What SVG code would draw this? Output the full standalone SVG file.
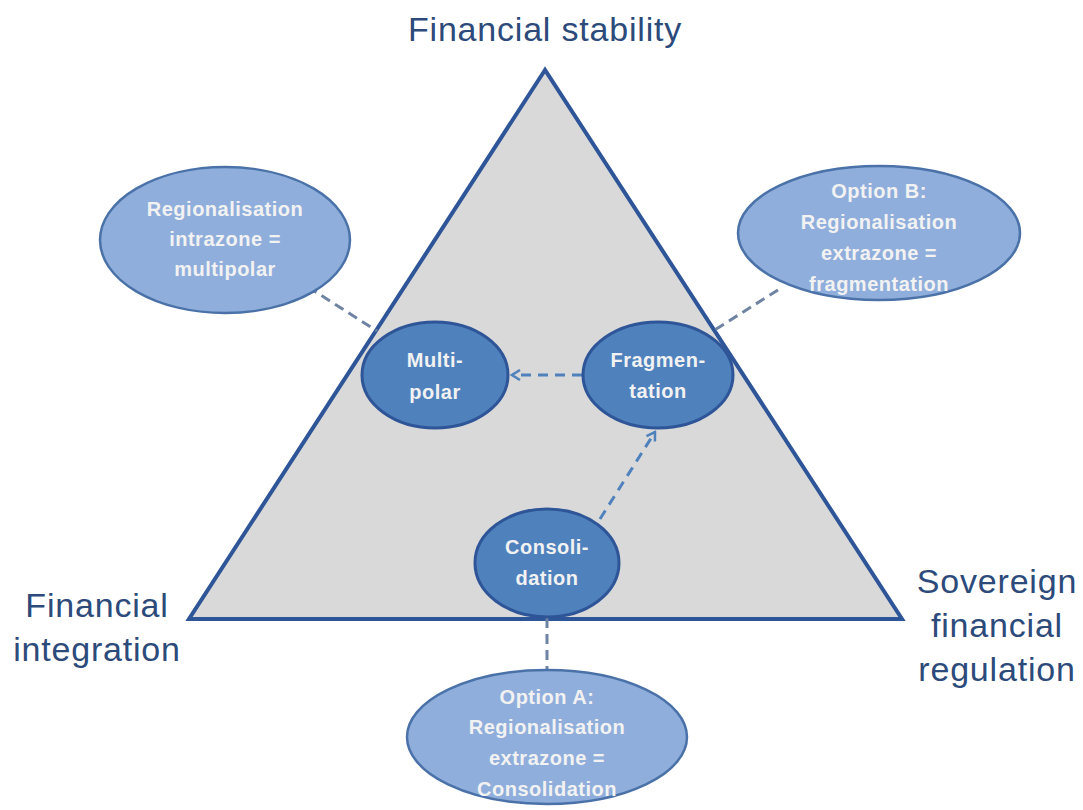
<svg xmlns="http://www.w3.org/2000/svg" width="1083" height="810" viewBox="0 0 1083 810">
<defs>
<style>
.outer{font-family:"Liberation Sans",Arial,sans-serif;font-size:34px;letter-spacing:0.8px;fill:#2c4a7a;text-anchor:middle}
.lbl{font-family:"Liberation Sans",Arial,sans-serif;font-size:20px;letter-spacing:0.5px;font-weight:bold;fill:#f2f2f2;text-anchor:middle}
.light{fill:#8faedb;stroke:#4a72a8;stroke-width:2.5}
.dark{fill:#4f81bd;stroke:#2e5597;stroke-width:3}
.link{stroke:#6f84a3;stroke-width:3;stroke-dasharray:10 6;fill:none}
.arrow{stroke:#4f81bd;stroke-width:3;stroke-dasharray:10 7;fill:none}
</style>
<marker id="head" viewBox="0 0 12 12" refX="10" refY="6" markerWidth="12" markerHeight="12" markerUnits="userSpaceOnUse" orient="auto">
<path d="M2,1 L10,6 L2,11" fill="none" stroke="#4f81bd" stroke-width="2.5"/>
</marker>
</defs>
<rect width="1083" height="810" fill="#ffffff"/>
<g id="triangle">
<polygon points="545,70 189,619 902,619" fill="#d9d9d9" stroke="#2e5597" stroke-width="4" stroke-linejoin="miter"/>
</g>
<g id="titles">
<text class="outer" x="545" y="41">Financial stability</text>
<text class="outer" x="97" y="617">Financial</text>
<text class="outer" x="97" y="661">integration</text>
<text class="outer" x="997" y="593">Sovereign</text>
<text class="outer" x="997" y="637">financial</text>
<text class="outer" x="997" y="681">regulation</text>
</g>
<g id="connectors">
<line class="link" x1="308" y1="287" x2="377" y2="331"/>
<line class="link" x1="778" y1="290" x2="713" y2="331"/>
<line class="link" x1="547" y1="618" x2="547" y2="670"/>
<line class="arrow" x1="582" y1="375" x2="512" y2="375" marker-end="url(#head)"/>
<line class="arrow" x1="600" y1="519" x2="655" y2="432" marker-end="url(#head)"/>
</g>
<g id="intrazone">
<ellipse class="light" cx="225" cy="240" rx="125" ry="73"/>
<text class="lbl" x="225" y="216">Regionalisation</text>
<text class="lbl" x="225" y="246">intrazone =</text>
<text class="lbl" x="225" y="276">multipolar</text>
</g>
<g id="optionB">
<ellipse class="light" cx="879" cy="233" rx="141" ry="67"/>
<text class="lbl" x="879" y="198">Option B:</text>
<text class="lbl" x="879" y="229">Regionalisation</text>
<text class="lbl" x="879" y="260">extrazone =</text>
<text class="lbl" x="879" y="291">fragmentation</text>
</g>
<g id="multipolar">
<ellipse class="dark" cx="435" cy="375" rx="73" ry="53"/>
<text class="lbl" x="435" y="367">Multi-</text>
<text class="lbl" x="435" y="399">polar</text>
</g>
<g id="fragmentation">
<ellipse class="dark" cx="658" cy="375" rx="75" ry="53"/>
<text class="lbl" x="658" y="367">Fragmen-</text>
<text class="lbl" x="658" y="398">tation</text>
</g>
<g id="consolidation">
<ellipse class="dark" cx="547" cy="563" rx="72" ry="54"/>
<text class="lbl" x="547" y="554">Consoli-</text>
<text class="lbl" x="547" y="585">dation</text>
</g>
<g id="optionA">
<ellipse class="light" cx="547" cy="737" rx="140" ry="67"/>
<text class="lbl" x="547" y="704">Option A:</text>
<text class="lbl" x="547" y="734">Regionalisation</text>
<text class="lbl" x="547" y="765">extrazone =</text>
<text class="lbl" x="547" y="796">Consolidation</text>
</g>
</svg>
